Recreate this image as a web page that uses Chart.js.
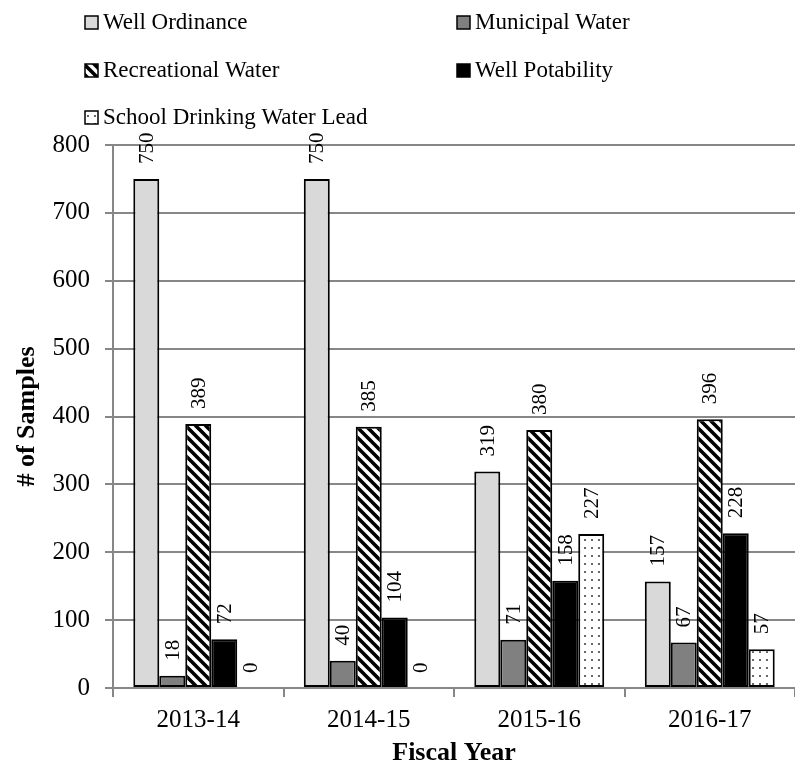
<!DOCTYPE html>
<html>
<head>
<meta charset="utf-8">
<script src="https://cdn.jsdelivr.net/npm/chart.js@4.4.1/dist/chart.umd.min.js"></script>
<style>
  body { margin: 0; background: #fff; }
  #wrap { width: 795px; height: 769px; }
</style>
</head>
<body>
<div id="wrap"><canvas id="samplesChart" width="795" height="769"></canvas></div>
<script>
const years = ['2013-14', '2014-15', '2015-16', '2016-17'];
const seriesNames = ['Well Ordinance', 'Municipal Water', 'Recreational Water', 'Well Potability', 'School Drinking Water Lead'];
const wellOrdinance = [750, 750, 319, 157];
const municipalWater = [18, 40, 71, 67];
const recreationalWater = [389, 385, 380, 396];
const wellPotability = [72, 104, 158, 228];
const schoolLead = [0, 0, 227, 57];
const yTicks = [0, 100, 200, 300, 400, 500, 600, 700, 800];

const serif = "'Liberation Serif', 'Times New Roman', serif";
const gridGray = '#878787';

// black/white diagonal hatch
function hatchPattern() {
  const c = document.createElement('canvas');
  c.width = 10; c.height = 10;
  const g = c.getContext('2d');
  g.fillStyle = '#fff';
  g.fillRect(0, 0, 10, 10);
  g.strokeStyle = '#000';
  g.lineWidth = 3.6;
  g.beginPath();
  g.moveTo(-5, -5); g.lineTo(15, 15);
  g.moveTo(-5, 5); g.lineTo(5, 15);
  g.moveTo(5, -5); g.lineTo(15, 5);
  g.stroke();
  return g.createPattern(c, 'repeat');
}

// white with small grey dots
function dotPattern() {
  const c = document.createElement('canvas');
  c.width = 7; c.height = 8;
  const g = c.getContext('2d');
  g.fillStyle = '#fff';
  g.fillRect(0, 0, 7, 8);
  g.fillStyle = '#666';
  g.fillRect(3, 3, 2, 2);
  return g.createPattern(c, 'repeat');
}

const fills = ['#d9d9d9', '#808080', hatchPattern(), '#000', dotPattern()];
const values = [wellOrdinance, municipalWater, recreationalWater, wellPotability, schoolLead];

const datasets = seriesNames.map((name, i) => ({
  label: name,
  data: values[i],
  backgroundColor: fills[i],
  borderColor: '#000',
  borderWidth: 2,
  borderSkipped: false,
  categoryPercentage: 0.762,
  barPercentage: 1
}));

// rotated value labels above each bar
const valueLabels = {
  id: 'valueLabels',
  afterDatasetsDraw(chart) {
    const ctx = chart.ctx;
    ctx.save();
    ctx.font = '21px ' + serif;
    ctx.fillStyle = '#000';
    chart.data.datasets.forEach((ds, i) => {
      chart.getDatasetMeta(i).data.forEach((bar, j) => {
        ctx.save();
        ctx.translate(bar.x + 1, bar.y - 15);
        ctx.rotate(-Math.PI / 2);
        ctx.textAlign = 'left';
        ctx.textBaseline = 'middle';
        ctx.fillText(String(ds.data[j]), 0, 0);
        ctx.restore();
      });
    });
    ctx.restore();
  }
};

// two-column legend like the original
const gridLegend = {
  id: 'gridLegend',
  afterDraw(chart) {
    const ctx = chart.ctx;
    const cols = [85, 457];
    const rows = [22, 70, 117];
    ctx.save();
    ctx.font = '23px ' + serif;
    ctx.textBaseline = 'middle';
    ctx.textAlign = 'left';
    chart.data.datasets.forEach((ds, i) => {
      const x = cols[i % 2];
      const y = rows[Math.floor(i / 2)];
      ctx.fillStyle = ds.backgroundColor;
      ctx.fillRect(x, y - 6, 13, 13);
      ctx.strokeStyle = '#000';
      ctx.lineWidth = 1.5;
      ctx.strokeRect(x, y - 6, 13, 13);
      ctx.fillStyle = '#000';
      ctx.fillText(ds.label, x + 18, y + 1);
    });
    ctx.restore();
  }
};

new Chart(document.getElementById('samplesChart'), {
  type: 'bar',
  data: { labels: years, datasets },
  plugins: [valueLabels, gridLegend],
  options: {
    responsive: false,
    animation: false,
    layout: { padding: { top: 145, right: 0, left: 0, bottom: 0 } },
    plugins: {
      legend: { display: false },
      tooltip: { enabled: false }
    },
    scales: {
      x: {
        afterFit: s => { s.height = 81; },
        grid: {
          offset: true,
          drawOnChartArea: false,
          color: gridGray,
          lineWidth: 2,
          tickLength: 9
        },
        border: { color: gridGray, width: 2 },
        ticks: { color: '#000', font: { family: serif, size: 25 }, padding: 8 },
        title: {
          display: true,
          text: 'Fiscal Year',
          color: '#000',
          font: { family: serif, size: 26, weight: 'bold' },
          padding: { top: 4, bottom: 0 }
        }
      },
      y: {
        min: 0,
        max: 800,
        afterFit: s => { s.width = 113; },
        afterBuildTicks: s => { s.ticks = yTicks.map(v => ({ value: v })); },
        grid: { color: gridGray, lineWidth: 2, tickLength: 8 },
        border: { color: gridGray, width: 2 },
        ticks: { color: '#000', font: { family: serif, size: 25 }, padding: 15 },
        title: {
          display: true,
          text: '# of Samples',
          color: '#000',
          font: { family: serif, size: 26, weight: 'bold' },
          padding: { top: 12, bottom: 0 }
        }
      }
    }
  }
});
</script>
</body>
</html>
